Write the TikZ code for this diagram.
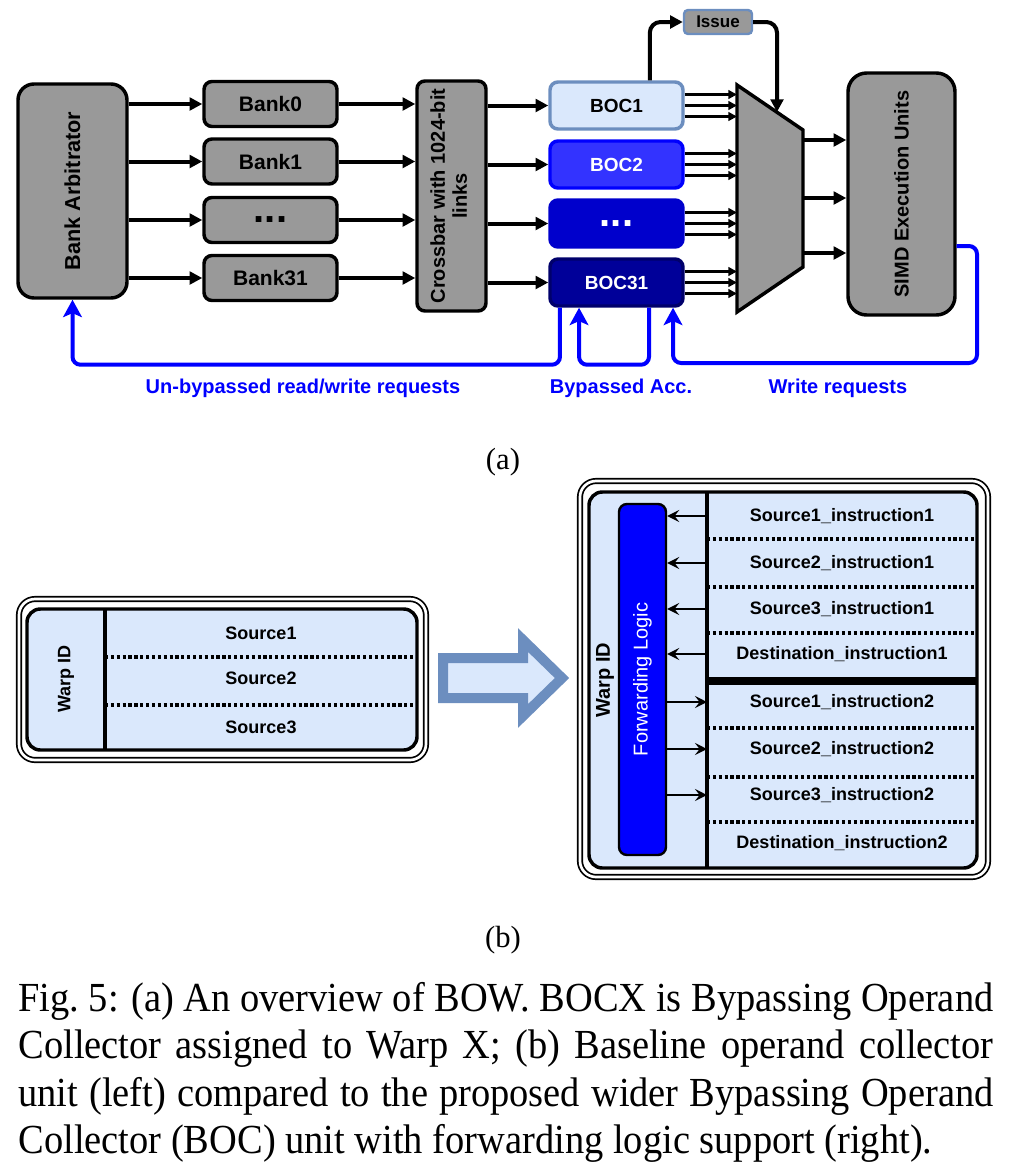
\documentclass[tikz,border=0pt]{standalone}
\usepackage{fontspec}
\setmainfont{Liberation Serif}
\setsansfont{Liberation Sans}
\newfontfamily\captionfont[FakeStretch=0.93]{Liberation Serif}
\usepackage{graphicx}
\usetikzlibrary{arrows.meta}

\definecolor{drawgray}{HTML}{999999}
\definecolor{paleblue}{HTML}{DAE8FC}
\definecolor{edgeblue}{HTML}{6C8EBF}
\definecolor{brightblue}{HTML}{3333FF}
\definecolor{midblue}{HTML}{0000CC}
\definecolor{deepblue}{HTML}{000099}
\definecolor{pureblue}{HTML}{0000FF}

\tikzset{every picture/.style={line width=0.75pt}}
\tikzset{
  grayblk/.style={draw, line width=2.6pt, fill=drawgray, rounded corners=6pt},
  bankbox/.style={minimum width=99.75pt, minimum height=33.75pt, font=\sffamily\bfseries\fontsize{15.75}{18}\selectfont},
  bocbox/.style={draw, line width=2.6pt, rounded corners=6pt, minimum width=99.75pt, minimum height=35.25pt, font=\sffamily\bfseries\fontsize{14.25}{17}\selectfont},
  bocpale/.style={bocbox, fill=paleblue, draw=edgeblue, text=black},
  bocbright/.style={bocbox, fill=brightblue, draw=pureblue, text=white},
  bocmid/.style={bocbox, fill=midblue, draw=midblue, text=white},
  bocdeep/.style={bocbox, fill=deepblue, draw=deepblue!70!black, text=white},
  dotsfont/.style={font=\sffamily\bfseries\fontsize{30}{30}\selectfont},
  bluelbl/.style={text=pureblue, font=\sffamily\bfseries\fontsize{15}{18}\selectfont},
  thickarr/.style={line width=3pt, -{Triangle[length=9.5pt,width=9.5pt]}},
  thinarr/.style={line width=2pt, -{Triangle[length=6.5pt,width=6.5pt]}},
  bluearr/.style={draw=pureblue, line width=3pt, rounded corners=6pt, -{Stealth[length=13pt,width=14pt,inset=3pt]}},
  fwdarr/.style={line width=1.6pt, -{Stealth[length=9pt,width=9pt,inset=3.5pt]}},
  dblframe/.style={draw, double, double distance=2pt, line width=1.3pt, rounded corners=12pt},
  cellbox/.style={draw, fill=paleblue, line width=2.6pt, rounded corners=10pt},
  dotrow/.style={line width=2.6pt, dash pattern=on 2.4pt off 2pt},
  rowtext/.style={font=\sffamily\bfseries\fontsize{13.5}{16}\selectfont},
  subcap/.style={font=\fontsize{23}{27}\selectfont},
}

\begin{document}
\begin{tikzpicture}[x=0.75pt,y=0.75pt,yscale=-1,xscale=1]
	\useasboundingbox (0,0) rectangle (1008,1165);

	%Rounded Rect: bank arbitrator
	\draw (72.5,191) node[grayblk, rounded corners=12pt, minimum width=81.75pt, minimum height=160.5pt, font=\sffamily\bfseries\fontsize{16.25}{19}\selectfont] (arb) {\rotatebox{90}{Bank Arbitrator}};
	%Rounded Rect: banks
	\draw (270.5,104) node[grayblk, bankbox] (bk0) {Bank0};
	\draw (270.5,161.5) node[grayblk, bankbox] (bk1) {Bank1};
	\draw (270.5,220) node[grayblk, bankbox, dotsfont] (bkd) {...};
	\draw (270.5,278) node[grayblk, bankbox] (bk31) {Bank31};
	%Rounded Rect: crossbar
	\draw (451.5,196) node[grayblk, minimum width=51.75pt, minimum height=172.5pt, font=\sffamily\bfseries\fontsize{15}{16.5}\selectfont] (xbar) {\rotatebox{90}{\begin{tabular}{@{}c@{}}Crossbar with 1024-bit\\links\end{tabular}}};
	%Rounded Rect: operand collectors
	\draw (616.5,105.5) node[bocpale] (boc1) {BOC1};
	\draw (616.5,164.5) node[bocbright] (boc2) {BOC2};
	\draw (616.5,223.5) node[bocmid, dotsfont] (bocd) {...};
	\draw (616.5,282.5) node[bocdeep] (boc31) {BOC31};
	%Rounded Rect: issue
	\draw (718,22) node[draw=edgeblue, fill=drawgray, line width=1.8pt, rounded corners=3pt, minimum width=51pt, minimum height=18pt, inner sep=1pt, font=\sffamily\bfseries\fontsize{12.75}{14}\selectfont] (issue) {Issue};
	%Rounded Rect: execution units
	\draw (901.5,194) node[grayblk, rounded corners=14pt, minimum width=80.25pt, minimum height=181.5pt, font=\sffamily\bfseries\fontsize{15}{18}\selectfont] (simd) {\rotatebox{90}{SIMD Execution Units}};

	%Shape: Trapezoid (mux)
	\draw [line width=2.6pt, fill=drawgray] (737,85) -- (803,130) -- (803,267) -- (737,312) -- cycle ;
	\coordinate (muxl) at (737,200);
	\coordinate (muxtop) at (777,112);
	\coordinate (mo1) at (803,140);
	\coordinate (mo2) at (803,198);
	\coordinate (mo3) at (803,253);
	\coordinate (wrout) at (0,246);
	\coordinate (wrturn) at (977,363);

	%Straight Lines: arbitrator to banks
	\draw [thickarr] (arb.east |- bk0.west) -- (bk0.west) ;
	\draw [thickarr] (arb.east |- bk1.west) -- (bk1.west) ;
	\draw [thickarr] (arb.east |- bkd.west) -- (bkd.west) ;
	\draw [thickarr] (arb.east |- bk31.west) -- (bk31.west) ;
	%Straight Lines: banks to crossbar
	\draw [thickarr] (bk0.east) -- (bk0.east -| xbar.west) ;
	\draw [thickarr] (bk1.east) -- (bk1.east -| xbar.west) ;
	\draw [thickarr] (bkd.east) -- (bkd.east -| xbar.west) ;
	\draw [thickarr] (bk31.east) -- (bk31.east -| xbar.west) ;
	%Straight Lines: crossbar to collectors
	\draw [thickarr] (xbar.east |- boc1.west) -- (boc1.west) ;
	\draw [thickarr] (xbar.east |- boc2.west) -- (boc2.west) ;
	\draw [thickarr] (xbar.east |- bocd.west) -- (bocd.west) ;
	\draw [thickarr] (xbar.east |- boc31.west) -- (boc31.west) ;
	%Straight Lines: collectors to mux
	\draw [thinarr] ([yshift=8.25pt]boc1.east) -- ([yshift=8.25pt]boc1.east -| muxl) ;
	\draw [thinarr] (boc1.east) -- (boc1.east -| muxl) ;
	\draw [thinarr] ([yshift=-8.25pt]boc1.east) -- ([yshift=-8.25pt]boc1.east -| muxl) ;
	\draw [thinarr] ([yshift=8.25pt]boc2.east) -- ([yshift=8.25pt]boc2.east -| muxl) ;
	\draw [thinarr] (boc2.east) -- (boc2.east -| muxl) ;
	\draw [thinarr] ([yshift=-8.25pt]boc2.east) -- ([yshift=-8.25pt]boc2.east -| muxl) ;
	\draw [thinarr] ([yshift=8.25pt]bocd.east) -- ([yshift=8.25pt]bocd.east -| muxl) ;
	\draw [thinarr] (bocd.east) -- (bocd.east -| muxl) ;
	\draw [thinarr] ([yshift=-8.25pt]bocd.east) -- ([yshift=-8.25pt]bocd.east -| muxl) ;
	\draw [thinarr] ([yshift=8.25pt]boc31.east) -- ([yshift=8.25pt]boc31.east -| muxl) ;
	\draw [thinarr] (boc31.east) -- (boc31.east -| muxl) ;
	\draw [thinarr] ([yshift=-8.25pt]boc31.east) -- ([yshift=-8.25pt]boc31.east -| muxl) ;
	%Straight Lines: mux to execution units
	\draw [thickarr] (mo1) -- (mo1 -| simd.west) ;
	\draw [thickarr] (mo2) -- (mo2 -| simd.west) ;
	\draw [thickarr] (mo3) -- (mo3 -| simd.west) ;
	%Curve Lines: issue path
	\draw [thickarr, rounded corners=8pt] ([xshift=25pt]boc1.north) |- (issue.west) ;
	\draw [thickarr, rounded corners=8pt] (issue.east) -| (muxtop) ;

	%Curve Lines: feedback paths
	\draw [bluearr] ([xshift=-42.4pt]boc31.south) -- ++(0,57) -| (arb.south) ;
	\draw [bluearr] ([xshift=24.4pt]boc31.south) -- ++(0,57) -| ([xshift=-28.1pt]boc31.south) ;
	\draw [bluearr] (simd.east |- wrout) -| (wrturn) -| ([xshift=42.4pt]boc31.south) ;

	% Text Node
	\draw (303,388) node[bluelbl] (unbyp) {Un-bypassed read/write requests};
	% Text Node
	\draw (621,388) node[bluelbl] (byp) {Bypassed Acc.};
	% Text Node
	\draw (838,388) node[bluelbl] (wrreq) {Write requests};
	% Text Node
	\draw (503,462) node[subcap] (suba) {(a)};

	%Shape: baseline collector unit
	\draw [dblframe] (19,599) rectangle (426,760) ;
	\draw [cellbox] (27,609) rectangle (417,750) ;
	\draw [line width=2.6pt] (105,609) -- (105,750) ;
	\draw [dotrow] (105,657) -- (417,657) ;
	\draw [dotrow] (105,705) -- (417,705) ;
	% Text Node
	\draw (66,679) node[rowtext] (wida) {\rotatebox{90}{Warp ID}};
	% Text Node
	\draw (261,633) node[rowtext] (src1) {Source1};
	% Text Node
	\draw (261,678) node[rowtext] (src2) {Source2};
	% Text Node
	\draw (261,727) node[rowtext] (src3) {Source3};

	%Shape: block arrow
	\draw [draw=edgeblue, fill=paleblue, line width=7.5pt] (443,658) -- (523,658) -- (523,640) -- (562,678) -- (523,716) -- (523,698) -- (443,698) -- cycle ;

	%Shape: bypassing collector unit
	\draw [dblframe] (580,481) rectangle (988,877) ;
	\draw [cellbox] (589,492) rectangle (977,868) ;
	\draw [line width=2.6pt] (707,492) -- (707,868) ;
	\coordinate (dv) at (707,0);
	\draw [line width=6pt] (707,681) -- (977,681) ;
	\draw [dotrow] (707,539) -- (977,539) ;
	\draw [dotrow] (707,587) -- (977,587) ;
	\draw [dotrow] (707,633) -- (977,633) ;
	\draw [dotrow] (707,728) -- (977,728) ;
	\draw [dotrow] (707,777) -- (977,777) ;
	\draw [dotrow] (707,822) -- (977,822) ;
	%Rounded Rect: forwarding logic
	\draw (642.5,679.5) node[draw, fill=pureblue, line width=1.8pt, rounded corners=6pt, minimum width=35.25pt, minimum height=263.25pt, text=white, font=\sffamily\fontsize{15}{18}\selectfont] (fwd) {\rotatebox{90}{Forwarding Logic}};
	% Text Node
	\draw (605,680) node[font=\sffamily\bfseries\fontsize{15}{18}\selectfont] (widb) {\rotatebox{90}{Warp ID}};
	% Text Node
	\draw (842,516) node[rowtext] (s1i1) {Source1\_instruction1};
	% Text Node
	\draw (842,563) node[rowtext] (s2i1) {Source2\_instruction1};
	% Text Node
	\draw (842,609) node[rowtext] (s3i1) {Source3\_instruction1};
	% Text Node
	\draw (842,654) node[rowtext] (di1) {Destination\_instruction1};
	% Text Node
	\draw (842,702) node[rowtext] (s1i2) {Source1\_instruction2};
	% Text Node
	\draw (842,749) node[rowtext] (s2i2) {Source2\_instruction2};
	% Text Node
	\draw (842,795) node[rowtext] (s3i2) {Source3\_instruction2};
	% Text Node
	\draw (842,843) node[rowtext] (di2) {Destination\_instruction2};
	%Straight Lines: rows to forwarding logic
	\draw [fwdarr] (s1i1 -| dv) -- (s1i1 -| fwd.east) ;
	\draw [fwdarr] (s2i1 -| dv) -- (s2i1 -| fwd.east) ;
	\draw [fwdarr] (s3i1 -| dv) -- (s3i1 -| fwd.east) ;
	\draw [fwdarr] (di1 -| dv) -- (di1 -| fwd.east) ;
	%Straight Lines: forwarding logic to rows
	\draw [fwdarr] (s1i2 -| fwd.east) -- (s1i2 -| dv) ;
	\draw [fwdarr] (s2i2 -| fwd.east) -- (s2i2 -| dv) ;
	\draw [fwdarr] (s3i2 -| fwd.east) -- (s3i2 -| dv) ;

	% Text Node
	\draw (503,940) node[subcap] (subb) {(b)};
	% Text Node
	\draw (18,982) node[anchor=north west, text width=731.25pt, align=justify, inner sep=0pt, font=\captionfont\fontsize{31}{35.5}\selectfont] (caption) {Fig.~5: (a) An overview of BOW. BOCX is Bypassing Operand\linebreak Collector assigned to Warp X; (b) Baseline operand collector\linebreak unit (left) compared to the proposed wider Bypassing Operand\linebreak Collector (BOC) unit with forwarding logic support (right).};

\end{tikzpicture}
\end{document}
